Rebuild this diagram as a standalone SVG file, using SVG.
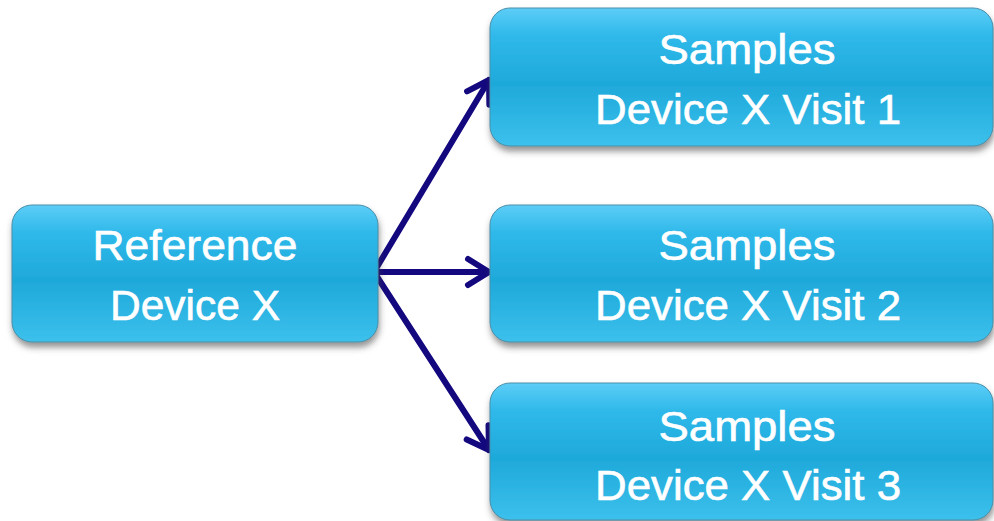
<svg xmlns="http://www.w3.org/2000/svg" width="994" height="521" viewBox="0 0 994 521">
<defs>
<linearGradient id="boxg" x1="0" y1="0" x2="0" y2="1">
<stop offset="0" stop-color="#5dcdf7"/>
<stop offset="0.2" stop-color="#2fb9ea"/>
<stop offset="0.55" stop-color="#1ea9da"/>
<stop offset="1" stop-color="#3cc0ec"/>
</linearGradient>
<filter id="shadow" x="-10%" y="-10%" width="120%" height="130%">
<feDropShadow dx="1" dy="5" stdDeviation="3" flood-color="#404040" flood-opacity="0.55"/>
</filter>
<marker id="chev" markerUnits="userSpaceOnUse" markerWidth="40" markerHeight="40" refX="0" refY="0" viewBox="-25 -20 30 40" orient="auto" overflow="visible">
<path d="M-21,-13 L0,0 L-21,13" fill="none" stroke="#14087f" stroke-width="6" stroke-linecap="round" stroke-linejoin="round"/>
</marker>
</defs>
<style>
.box{fill:url(#boxg);stroke:#4a8fa8;stroke-width:1;filter:url(#shadow);}
.t{font-family:"Liberation Sans",Arial,sans-serif;font-size:42px;fill:#ffffff;stroke:#ffffff;stroke-width:0.6;text-anchor:middle;}
.conn{stroke:#14087f;stroke-width:6;fill:none;stroke-linecap:round;marker-end:url(#chev);}
</style>
<g id="connectors">
<line class="conn" x1="374" y1="272" x2="489" y2="80"/>
<line class="conn" x1="374" y1="272" x2="489" y2="272"/>
<line class="conn" x1="374" y1="272" x2="489" y2="450"/>
</g>
<g id="node-reference">
<rect class="box" x="12" y="205" width="366" height="137" rx="20"/>
<text class="t" x="195" y="260" textLength="205" lengthAdjust="spacingAndGlyphs">Reference</text>
<text class="t" x="195" y="320" textLength="170" lengthAdjust="spacingAndGlyphs">Device X</text>
</g>
<g id="node-visit1">
<rect class="box" x="490" y="8" width="503" height="138" rx="20"/>
<text class="t" x="747" y="64" textLength="177" lengthAdjust="spacingAndGlyphs">Samples</text>
<text class="t" x="748" y="124" textLength="306" lengthAdjust="spacingAndGlyphs">Device X Visit 1</text>
</g>
<g id="node-visit2">
<rect class="box" x="490" y="205" width="503" height="137" rx="20"/>
<text class="t" x="747" y="260" textLength="177" lengthAdjust="spacingAndGlyphs">Samples</text>
<text class="t" x="748" y="320" textLength="306" lengthAdjust="spacingAndGlyphs">Device X Visit 2</text>
</g>
<g id="node-visit3">
<rect class="box" x="490" y="383" width="503" height="137" rx="20"/>
<text class="t" x="747" y="441" textLength="177" lengthAdjust="spacingAndGlyphs">Samples</text>
<text class="t" x="748" y="500" textLength="306" lengthAdjust="spacingAndGlyphs">Device X Visit 3</text>
</g>
</svg>
